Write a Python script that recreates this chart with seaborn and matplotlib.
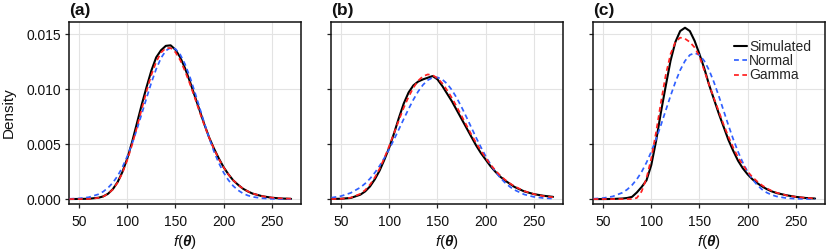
import matplotlib
matplotlib.use("Agg")
import matplotlib.pyplot as plt
import seaborn as sns
import pandas as pd
import numpy as np

# ---------------- data ----------------
x_grid = [40, 50, 60, 70, 75, 80, 85, 90, 95, 100, 105, 110, 115, 120, 125, 130,
          135, 140, 145, 150, 155, 160, 165, 170, 175, 180, 185, 190, 195, 200,
          205, 210, 215, 220, 225, 230, 240, 250, 260, 270]

sim_a = [0.0, 0.00001, 0.00003, 0.00012, 0.00024, 0.00048, 0.0009, 0.00155, 0.00248, 0.0037,
         0.0052, 0.0069, 0.0086, 0.0102, 0.0117, 0.0129, 0.01355, 0.01395, 0.0140, 0.0136,
         0.0129, 0.0119, 0.0107, 0.0094, 0.0081, 0.0068, 0.0056, 0.0046, 0.0037, 0.0029,
         0.00225, 0.0017, 0.0013, 0.00095, 0.0007, 0.0005, 0.00026, 0.00012, 0.00005, 0.00002]
norm_a = [0.00002, 0.000056, 0.000164, 0.000435, 0.000675, 0.00102, 0.00149, 0.00211, 0.00291, 0.00389,
          0.00505, 0.00635, 0.00776, 0.0092, 0.0106, 0.01184, 0.01284, 0.01351, 0.01379, 0.01367,
          0.01315, 0.01227, 0.01112, 0.00977, 0.00834, 0.00691, 0.00555, 0.00433, 0.00328, 0.00241,
          0.00172, 0.00119, 0.0008, 0.00052, 0.00033, 0.0002, 0.00007, 0.00002, 0.000005, 0.0]
gamma_a = [0.0, 0.0, 0.000013, 0.000102, 0.000232, 0.000475, 0.00088, 0.00151, 0.00239, 0.00355,
           0.00495, 0.00653, 0.0082, 0.00982, 0.01131, 0.01249, 0.01334, 0.01375, 0.01375, 0.01337,
           0.01264, 0.01164, 0.01049, 0.00924, 0.00795, 0.00672, 0.00559, 0.00456, 0.00365, 0.00288,
           0.00224, 0.00171, 0.00129, 0.00096, 0.00071, 0.00051, 0.00026, 0.00013, 0.00006, 0.00003]

sim_b = [0.00001, 0.00003, 0.0001, 0.0004, 0.0007, 0.00115, 0.0018, 0.0026, 0.0036, 0.0047,
         0.0060, 0.0074, 0.0087, 0.0097, 0.01035, 0.0107, 0.0109, 0.01105, 0.0112, 0.0109,
         0.0103, 0.0096, 0.0089, 0.0081, 0.0073, 0.0065, 0.0057, 0.0049, 0.0042, 0.0036,
         0.0030, 0.0025, 0.00205, 0.0017, 0.0014, 0.0011, 0.0007, 0.00045, 0.0003, 0.0002]
norm_b = [0.000123, 0.000273, 0.00056, 0.00106, 0.00142, 0.00186, 0.0024, 0.00303, 0.00376, 0.00456,
          0.00544, 0.00636, 0.00729, 0.0082, 0.00905, 0.0098, 0.0104, 0.01083, 0.01106, 0.01108,
          0.01089, 0.0105, 0.00993, 0.00921, 0.00838, 0.00748, 0.00655, 0.00562, 0.00474, 0.00391,
          0.00317, 0.00252, 0.00196, 0.0015, 0.00113, 0.00083, 0.00042, 0.0002, 0.00009, 0.00004]
gamma_b = [0.000002, 0.000021, 0.000125, 0.000478, 0.00082, 0.00131, 0.00197, 0.00278, 0.00376, 0.00485,
           0.00601, 0.00719, 0.00831, 0.0093, 0.01014, 0.01078, 0.01118, 0.01135, 0.01128, 0.01101,
           0.01054, 0.00991, 0.00921, 0.00841, 0.00758, 0.00674, 0.00591, 0.00514, 0.00441, 0.00374,
           0.00315, 0.00262, 0.00216, 0.00177, 0.00144, 0.00116, 0.00073, 0.00045, 0.00027, 0.00016]

sim_c = [0.0, 0.0, 0.00001, 0.00005, 0.0001, 0.0002, 0.0006, 0.0011, 0.0017, 0.0031,
         0.0053, 0.0079, 0.0103, 0.0126, 0.0143, 0.0153, 0.0156, 0.0153, 0.0144, 0.0132,
         0.0119, 0.0104, 0.0091, 0.0078, 0.0066, 0.0054, 0.0044, 0.0035, 0.0028, 0.00225,
         0.0018, 0.00145, 0.00115, 0.0009, 0.0007, 0.00055, 0.00035, 0.0002, 0.0001, 0.00005]
norm_c = [0.00003, 0.00009, 0.00024, 0.00058, 0.00087, 0.00127, 0.0018, 0.00248, 0.00332, 0.00432,
          0.00547, 0.00673, 0.00807, 0.0094, 0.01065, 0.01174, 0.01258, 0.01312, 0.0133, 0.01312,
          0.01258, 0.01174, 0.01065, 0.0094, 0.00807, 0.00673, 0.00547, 0.00432, 0.00332, 0.00248,
          0.0018, 0.00127, 0.00087, 0.00058, 0.00038, 0.00024, 0.00009, 0.00003, 0.00001, 0.0]
gamma_c = [0.0, 0.0, 0.0, 0.0, 0.0, 0.0, 0.0001, 0.0007, 0.0019, 0.0037,
           0.0061, 0.0088, 0.0113, 0.0132, 0.0143, 0.0147, 0.0146, 0.0143, 0.0138, 0.0130,
           0.0117, 0.0104, 0.0092, 0.0080, 0.0068, 0.0057, 0.0047, 0.0038, 0.0031, 0.0025,
           0.0020, 0.0016, 0.00125, 0.00097, 0.00075, 0.00058, 0.00034, 0.0002, 0.00011, 0.00006]

panel_labels = ["(a)", "(b)", "(c)"]
series_names = ["Simulated", "Normal", "Gamma"]
x_ticks = [50, 100, 150, 200, 250]
y_ticks = [0.000, 0.005, 0.010, 0.015]

panels = [
    {"Simulated": sim_a, "Normal": norm_a, "Gamma": gamma_a},
    {"Simulated": sim_b, "Normal": norm_b, "Gamma": gamma_b},
    {"Simulated": sim_c, "Normal": norm_c, "Gamma": gamma_c},
]

# ---------------- style ----------------
sns.set_theme(style="white")
plt.rcParams["font.family"] = ["Liberation Sans", "DejaVu Sans"]
plt.rcParams["mathtext.fontset"] = "custom"
plt.rcParams["mathtext.rm"] = "Liberation Sans"
plt.rcParams["mathtext.it"] = "Liberation Sans:italic"
plt.rcParams["mathtext.bf"] = "Liberation Sans:bold:italic"

colors = {"Simulated": "#000000", "Normal": "#3060FF", "Gamma": "#FF2020"}
styles = {"Simulated": "-", "Normal": (0, (2.8, 2.0)), "Gamma": (0, (2.8, 2.0))}
widths = {"Simulated": 1.5, "Normal": 1.25, "Gamma": 1.25}
order = ["Normal", "Simulated", "Gamma"]

fig = plt.figure(figsize=(8.3, 2.52), dpi=100)
W, H = 830.0, 252.0
lefts = [69, 331, 593]
ax_w = 231.7
top_px, bot_px = 21.7, 204.0

axes = []
for i, (left, pdata) in enumerate(zip(lefts, panels)):
    ax = fig.add_axes([left / W, 1 - bot_px / H, ax_w / W, (bot_px - top_px) / H])
    axes.append(ax)
    for name in order:
        df = pd.DataFrame({"x": x_grid, "y": pdata[name]})
        sns.lineplot(data=df, x="x", y="y", ax=ax, color=colors[name],
                     linestyle=styles[name], linewidth=widths[name],
                     label=name, legend=False, zorder=3 if name == "Simulated" else 4)
    ax.set_xlim(39.5, 280)
    ax.set_ylim(-0.00045, 0.01615)
    ax.set_xticks(x_ticks)
    ax.set_yticks(y_ticks)
    ax.grid(True, color="#E3E3E3", linewidth=0.8)
    ax.set_axisbelow(True)
    for sp in ax.spines.values():
        sp.set_color("#111111")
        sp.set_linewidth(1.1)
    ax.tick_params(axis="both", which="both", direction="out", length=3, width=0.9,
                   color="#222222", labelsize=10, labelcolor="#111111", pad=2.5,
                   bottom=True, left=True)
    ax.tick_params(axis="x", pad=5)
    ax.set_xlabel(r"$f(\mathbf{\theta})$", fontsize=11, color="#111111", labelpad=2.5)
    if i == 0:
        ax.set_yticklabels(["0.000", "0.005", "0.010", "0.015"])
        ax.set_ylabel("Density", fontsize=11, color="#111111", labelpad=8)
    else:
        ax.set_yticklabels([])
        ax.set_ylabel("")
    ax.text(0.0, 1.02, panel_labels[i], transform=ax.transAxes, ha="left", va="bottom",
            fontsize=12.5, fontweight="bold", color="#111111")

# legend in panel (c)
ax = axes[2]
handles, labels = ax.get_legend_handles_labels()
hmap = dict(zip(labels, handles))
leg = ax.legend([hmap[n] for n in series_names], series_names, loc="upper left",
                bbox_to_anchor=(0.6085, 0.90), frameon=False, fontsize=10,
                handlelength=0.95, handletextpad=0.12, labelspacing=0.02,
                borderpad=0, borderaxespad=0)

fig.savefig("out.png", dpi=100)
